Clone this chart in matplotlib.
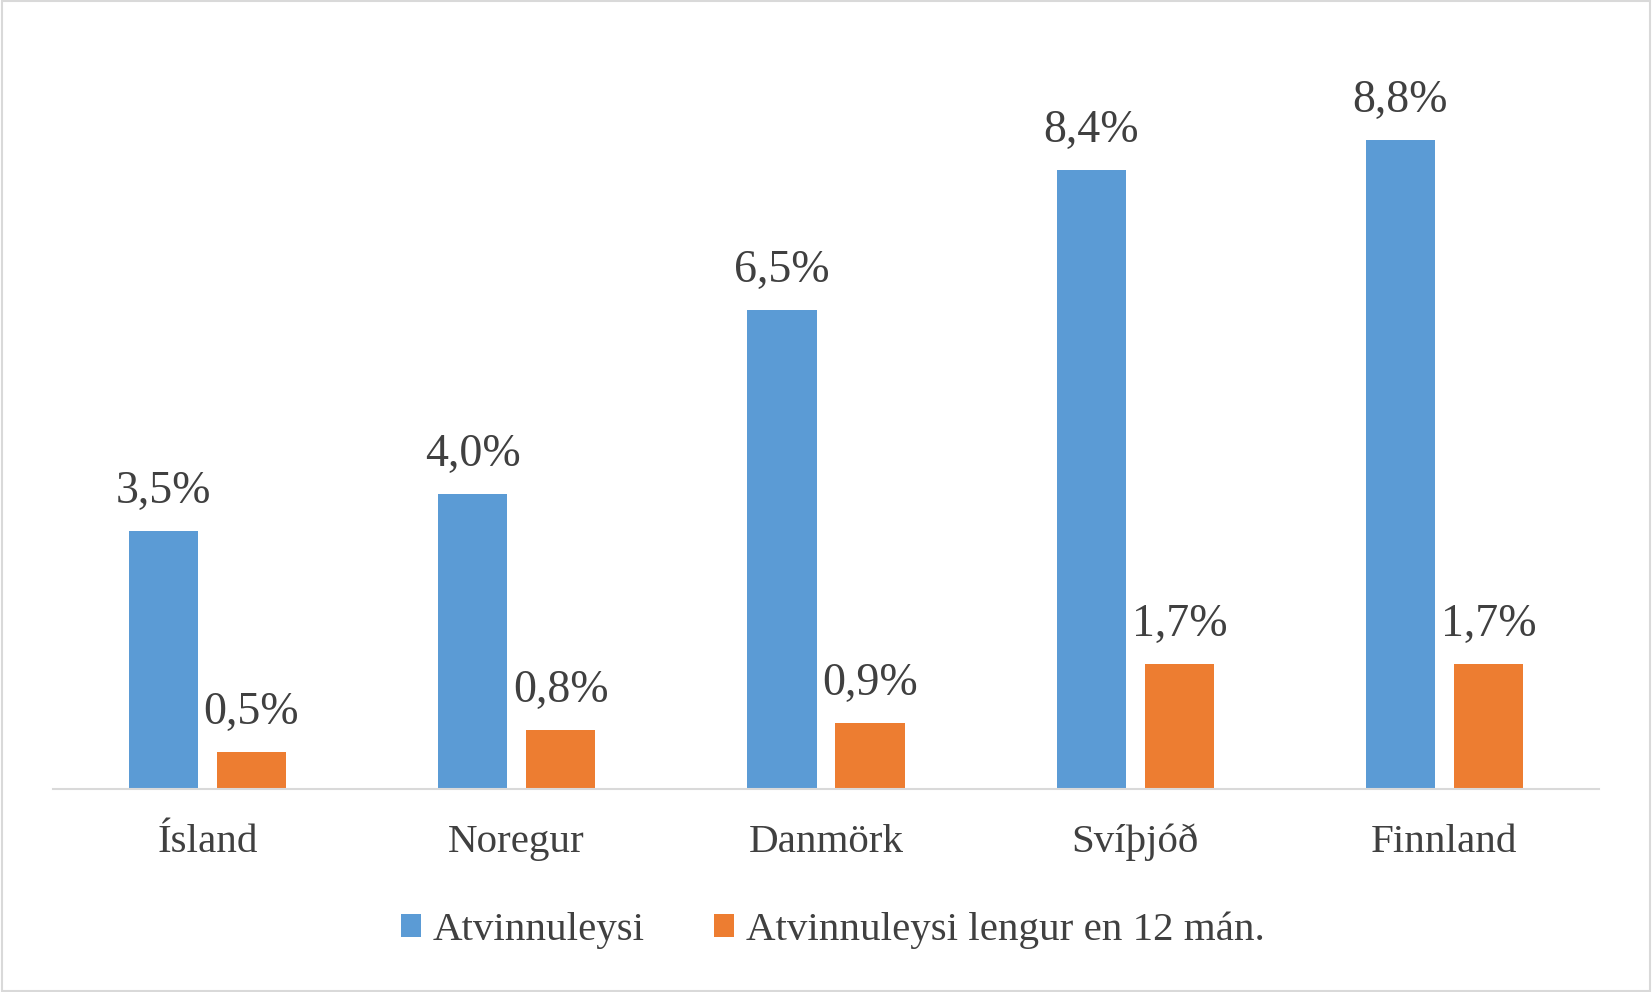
import matplotlib
matplotlib.use("Agg")
import matplotlib.pyplot as plt
from matplotlib.patches import Rectangle
import numpy as np

categories = ["Ísland", "Noregur", "Danmörk", "Svíþjóð", "Finnland"]
series_names = ["Atvinnuleysi", "Atvinnuleysi lengur en 12 mán."]
atvinnuleysi = [3.5, 4.0, 6.5, 8.4, 8.8]
langtima = [0.5, 0.8, 0.9, 1.7, 1.7]

blue = "#5B9BD5"
orange = "#ED7D31"
txt = "#404040"

plt.rcParams['font.family'] = ['Liberation Serif', 'DejaVu Serif']

fig = plt.figure(figsize=(16.52, 9.92), dpi=100)
ax = fig.add_axes([0.032, 0.2046, 0.936, 0.743])

x = np.arange(len(categories))
w = 0.224
gap = 0.061
off = (w + gap) / 2
b1 = ax.bar(x - off, atvinnuleysi, w, color=blue, label=series_names[0])
b2 = ax.bar(x + off, langtima, w, color=orange, label=series_names[1])

fmt = lambda v: f"{v:.1f}".replace(".", ",") + "%"
for bars, vals in ((b1, atvinnuleysi), (b2, langtima)):
    ax.bar_label(bars, labels=[fmt(v) for v in vals], padding=13,
                 fontsize=33, color=txt)

ax.set_xlim(-0.5, len(categories) - 0.5)
ax.set_ylim(0, 10)
ax.set_xticks(x)
ax.set_xticklabels(categories, fontsize=29.5, color=txt)
ax.tick_params(axis='x', length=0, pad=25)
ax.set_yticks([])
for s in ("top", "right", "left"):
    ax.spines[s].set_visible(False)
ax.spines["bottom"].set_color("#D9D9D9")
ax.spines["bottom"].set_linewidth(1.5)

leg = fig.legend(handles=[b1, b2], labels=series_names, loc="center",
                 bbox_to_anchor=(0.504, 0.062), ncol=2, frameon=False,
                 fontsize=29.5, handlelength=0.5, handleheight=0.5,
                 handletextpad=0.28, columnspacing=1.68)
for t in leg.get_texts():
    t.set_color(txt)

fig.patches.append(Rectangle((0.001, 0.001), 0.998, 0.998, transform=fig.transFigure,
                             fill=False, edgecolor="#D9D9D9", linewidth=1.5))

fig.savefig("out.png", dpi=100, facecolor="white")
